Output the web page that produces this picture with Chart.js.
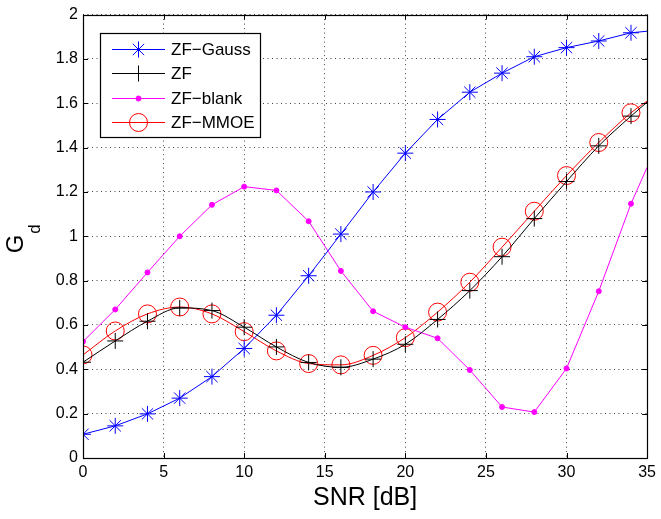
<!DOCTYPE html>
<html>
<head>
<meta charset="utf-8">
<script src="https://cdn.jsdelivr.net/npm/chart.js@4.4.1/dist/chart.umd.min.js"></script>
<style>
  html, body { margin: 0; padding: 0; background: #fff; }
  #wrap { width: 661px; height: 519px; position: relative; }
</style>
</head>
<body>
<div id="wrap"><canvas id="chart" width="661" height="519"></canvas></div>
<script>
// SNR en dB (le dernier point à 35 n'a pas de marqueur)
const snr = [0, 2, 4, 6, 8, 10, 12, 14, 16, 18, 20, 22, 24, 26, 28, 30, 32, 34, 35];

const zfGauss = [0.107, 0.145, 0.199, 0.270, 0.367, 0.494, 0.644, 0.822, 1.010, 1.200, 1.375, 1.527, 1.650, 1.736, 1.810, 1.851, 1.881, 1.918, 1.925];
const zf      = [0.432, 0.528, 0.617, 0.677, 0.665, 0.590, 0.501, 0.431, 0.409, 0.446, 0.513, 0.625, 0.755, 0.908, 1.080, 1.247, 1.408, 1.542, 1.605];
const zfBlank = [0.525, 0.670, 0.837, 1.000, 1.142, 1.224, 1.207, 1.068, 0.844, 0.662, 0.590, 0.540, 0.397, 0.230, 0.207, 0.404, 0.752, 1.147, 1.311];
const zfMmoe  = [0.465, 0.573, 0.650, 0.681, 0.650, 0.570, 0.483, 0.426, 0.420, 0.463, 0.543, 0.658, 0.793, 0.951, 1.113, 1.274, 1.423, 1.557, 1.610];

const xTicks = [0, 5, 10, 15, 20, 25, 30, 35];
const yTicks = [0, 0.2, 0.4, 0.6, 0.8, 1, 1.2, 1.4, 1.6, 1.8, 2];
const yTickLabels = ['0', '0.2', '0.4', '0.6', '0.8', '1', '1.2', '1.4', '1.6', '1.8', '2'];

const legendNames = ['ZF\u2212Gauss', 'ZF', 'ZF\u2212blank', 'ZF\u2212MMOE'];

const police = 'Liberation Sans, Arial, Helvetica, sans-serif';

function paires(ys){
    return snr.map(function(x, i){ return {x: x, y: ys[i]}; });
}
function rayon(r){
    return function(c){ return (c.raw && c.raw.x === 35) ? 0 : r; };
}

// légende, titres et petites graduations intérieures (style matlab)
const decor = {
    id: 'decor',
    afterDraw(chart){
        const ctx = chart.ctx;
        const a = chart.chartArea;
        const xs = chart.scales.x, ys = chart.scales.y;
        ctx.save();
        // graduations vers l'intérieur
        ctx.strokeStyle = '#000';
        ctx.lineWidth = 1;
        ctx.beginPath();
        xTicks.forEach(function(v){
            const px = Math.round(xs.getPixelForValue(v)) + 0.5;
            ctx.moveTo(px, a.bottom); ctx.lineTo(px, a.bottom - 5);
            ctx.moveTo(px, a.top); ctx.lineTo(px, a.top + 5);
        });
        yTicks.forEach(function(v){
            const py = Math.round(ys.getPixelForValue(v)) + 0.5;
            ctx.moveTo(a.left, py); ctx.lineTo(a.left + 5, py);
            ctx.moveTo(a.right, py); ctx.lineTo(a.right - 5, py);
        });
        ctx.stroke();
        // cadre
        ctx.lineWidth = 1.2;
        ctx.strokeRect(Math.round(a.left) + 0.5, Math.round(a.top) + 0.5,
                       Math.round(a.right - a.left), Math.round(a.bottom - a.top));

        // titre x
        ctx.fillStyle = '#000';
        ctx.font = '25px ' + police;
        ctx.textAlign = 'center';
        ctx.textBaseline = 'middle';
        ctx.fillText('SNR [dB]', (a.left + a.right) / 2, 498);

        // titre y : G indice d
        ctx.save();
        ctx.translate(16, 240);
        ctx.rotate(-Math.PI / 2);
        ctx.textAlign = 'left';
        ctx.textBaseline = 'middle';
        ctx.font = '24px ' + police;
        const wG = ctx.measureText('G').width;
        ctx.fillText('G', -wG / 2 - 4, 0);
        ctx.font = '17px ' + police;
        ctx.fillText('d', wG / 2 - 3, 19);
        ctx.restore();

        // légende
        const lx = 100, ly = 33, lw = 160, lh = 104;
        ctx.fillStyle = '#fff';
        ctx.fillRect(lx, ly, lw, lh);
        ctx.lineWidth = 1.2;
        ctx.strokeStyle = '#000';
        ctx.strokeRect(lx + 0.5, ly + 0.5, lw, lh);
        const rangs = [49, 73, 98, 122];
        chart.data.datasets.forEach(function(ds, i){
            const y = rangs[i] + 0.5;
            ctx.strokeStyle = ds.borderColor;
            ctx.lineWidth = 1;
            ctx.beginPath();
            ctx.moveTo(112, y); ctx.lineTo(165, y);
            ctx.stroke();
            ctx.fillStyle = ds.pointBackgroundColor;
            ctx.strokeStyle = ds.pointBorderColor;
            ctx.lineWidth = ds.pointBorderWidth;
            Chart.helpers.drawPoint(ctx, {
                pointStyle: ds.pointStyle,
                radius: ds.legendRadius,
                rotation: 0,
                borderWidth: ds.pointBorderWidth
            }, 138.5, y);
            ctx.fillStyle = '#000';
            ctx.font = '17px ' + police;
            ctx.textAlign = 'left';
            ctx.textBaseline = 'middle';
            ctx.fillText(legendNames[i], 171, y + 1);
        });
        ctx.restore();
    }
};

const ctx = document.getElementById('chart').getContext('2d');
const monGraph = new Chart(ctx, {
    type: 'line',
    data: {
        datasets: [{
            label: legendNames[0],
            data: paires(zfGauss),
            borderColor: '#0000ff',
            borderWidth: 1,
            pointStyle: 'star',
            pointRadius: rayon(8),
            legendRadius: 8,
            pointBorderColor: '#0000ff',
            pointBackgroundColor: '#0000ff',
            pointBorderWidth: 1,
            tension: 0
        }, {
            label: legendNames[1],
            data: paires(zf),
            borderColor: '#000000',
            borderWidth: 1,
            pointStyle: 'cross',
            pointRadius: rayon(8),
            legendRadius: 8,
            pointBorderColor: '#000000',
            pointBackgroundColor: '#000000',
            pointBorderWidth: 1,
            cubicInterpolationMode: 'monotone'
        }, {
            label: legendNames[2],
            data: paires(zfBlank),
            borderColor: '#ff00ff',
            borderWidth: 1,
            pointStyle: 'circle',
            pointRadius: rayon(2.5),
            legendRadius: 2.5,
            pointBorderColor: '#ff00ff',
            pointBackgroundColor: '#ff00ff',
            pointBorderWidth: 1,
            tension: 0
        }, {
            label: legendNames[3],
            data: paires(zfMmoe),
            borderColor: '#ff0000',
            borderWidth: 1,
            pointStyle: 'circle',
            pointRadius: rayon(9),
            legendRadius: 9,
            pointBorderColor: '#ff0000',
            pointBackgroundColor: 'rgba(0,0,0,0)',
            pointBorderWidth: 1,
            cubicInterpolationMode: 'monotone'
        }]
    },
    options: {
        responsive: false,
        animation: false,
        layout: { padding: { top: 11, right: 9, left: 0, bottom: 0 } },
        plugins: { legend: { display: false }, tooltip: { enabled: false } },
        scales: {
            x: {
                type: 'linear',
                min: 0, max: 35,
                afterFit: function(s){ s.height = 61; },
                afterBuildTicks: function(s){ s.ticks = xTicks.map(function(v){ return {value: v}; }); },
                ticks: {
                    color: '#000',
                    font: { family: police, size: 16 },
                    padding: 5,
                    maxRotation: 0,
                    autoSkip: false
                },
                grid: { color: '#444', lineWidth: 1, drawTicks: false },
                border: { display: false, dash: [1, 3.5] }
            },
            y: {
                type: 'linear',
                min: 0, max: 2,
                afterFit: function(s){ s.width = 83; },
                afterBuildTicks: function(s){ s.ticks = yTicks.map(function(v){ return {value: v}; }); },
                ticks: {
                    color: '#000',
                    font: { family: police, size: 16 },
                    padding: 5,
                    autoSkip: false,
                    callback: function(v){
                        const i = yTicks.indexOf(v);
                        return i >= 0 ? yTickLabels[i] : '';
                    }
                },
                grid: { color: '#444', lineWidth: 1, drawTicks: false },
                border: { display: false, dash: [1, 3.5] }
            }
        }
    },
    plugins: [decor]
});
</script>
</body>
</html>
